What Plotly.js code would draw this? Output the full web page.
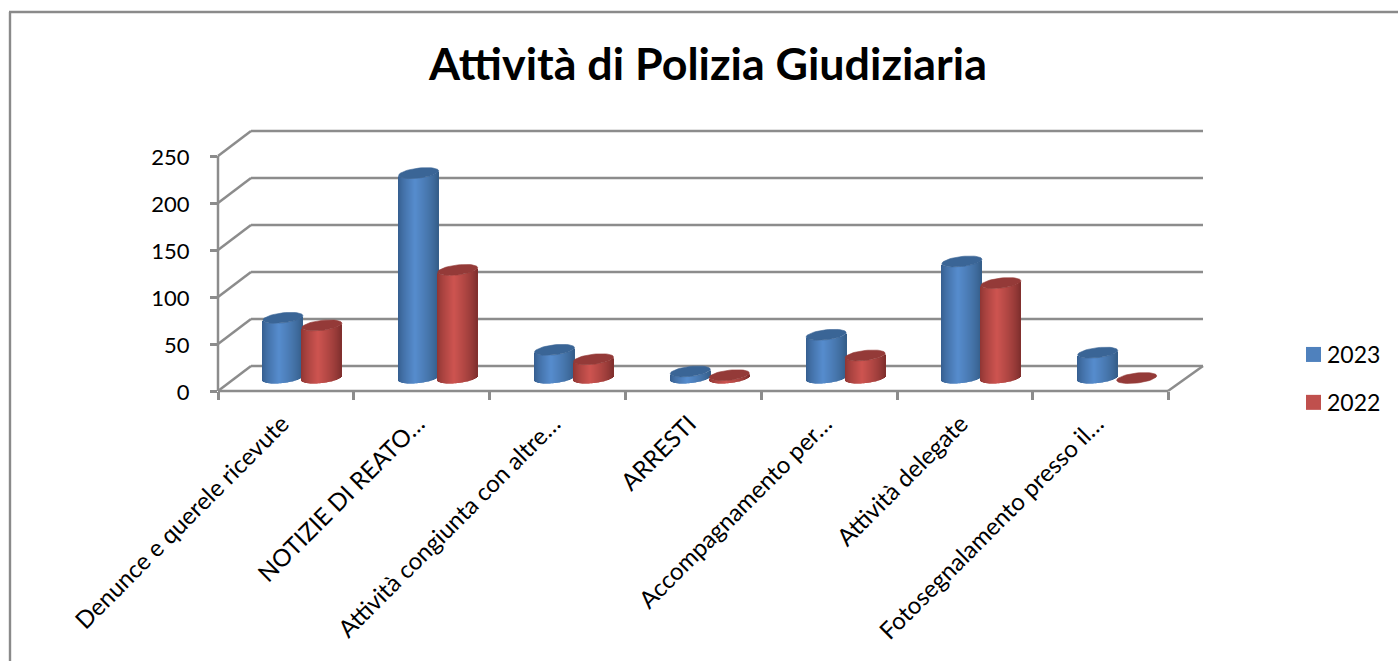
<!DOCTYPE html>
<html><head><meta charset="utf-8">
<script src="https://cdn.plot.ly/plotly-3.0.1.min.js"></script>
<style>html,body{margin:0;padding:0;background:#fff;overflow:hidden}#c{width:1398px;height:661px}</style>
</head><body><div id="c"></div>
<script>
const categories = ["Denunce e querele ricevute","NOTIZIE DI REATO…","Attività congiunta con altre…","ARRESTI","Accompagnamento per…","Attività delegate","Fotosegnalamento presso il…"];
const values2023 = [64,218,30,7,46,124,27];
const values2022 = [56,115,20,3,24,101,0];
const yTicks = [0,50,100,150,200,250];

// plot-box geometry, in pixels of the page
const L=218, R=1203, T=131, B=391, STEP=135.8, PXV=0.94, DX=33, DY=25;
const X=p=>-0.5+(p-L)/STEP, Y=p=>(B-p)/PXV;
const GRID='#8c8c8c', FONT='Lato, "Open Sans", sans-serif';

// cylinder geometry
const HALF=20, TILT=2.2, BH=5, ZERO=13.8, STRIPS=40;
function shade(rgbs,u){
  const t=u<-0.15?(u+1)/0.85:(1-u)/1.15, a=Math.pow(Math.max(0,t),0.75);
  const e=u<-0.15?rgbs[0]:rgbs[2], c=rgbs[1];
  return 'rgb('+[0,1,2].map(i=>Math.round(e[i]+(c[i]-e[i])*a)).join(',')+')';
}
function cylinder(vals,offPx,cols,cap){
  const x=[],y=[],base=[],color=[],px=[],py=[];
  vals.forEach((v,i)=>{
    const cx=i+offPx/STEP;
    for(let s=0;s<STRIPS;s++){
      const u=-1+(2*s+1)/STRIPS, h=BH*Math.sqrt(1-u*u);
      x.push(cx+u*HALF/STEP); y.push(v);
      base.push(ZERO+(TILT*u-h)/PXV); color.push(shade(cols,u));
    }
    for(let k=0;k<=48;k++){
      const a=k/48*2*Math.PI,u=Math.cos(a);
      px.push(cx+u*HALF/STEP); py.push(ZERO+v+(TILT*u+BH*Math.sin(a))/PXV);
    }
    px.push(null);py.push(null);
  });
  return [{type:'bar',x,y,base,width:1/STEP,marker:{color,line:{width:0}},showlegend:false,hoverinfo:'skip'},
          {type:'scatter',mode:'lines',x:px,y:py,fill:'toself',fillcolor:cap,line:{color:cap,width:0.6},showlegend:false,hoverinfo:'skip'}];
}
const blue=cylinder(values2023,-3,[[52,92,140],[86,140,205],[52,92,135]],'#3a6596');
const red=cylinder(values2022,36,[[140,52,50],[205,84,80],[125,46,44]],'#943a38');
const legendItems=[['2023','#4f81bd'],['2022','#c0504d']].map(([n,c])=>({type:'scatter',mode:'markers',x:[-5],y:[-50],name:n,legendgroup:n,marker:{symbol:'square',size:15,color:c}}));

const line=(x0,y0,x1,y1,c=GRID,w=2.5)=>({type:'line',xref:'paper',yref:'paper',x0:(x0-L)/(R-L),y0:(B-y0)/(B-T),x1:(x1-L)/(R-L),y1:(B-y1)/(B-T),line:{color:c,width:w},layer:'below'});
const shapes=[];
yTicks.forEach(t=>{
  const f=B-t*PXV;
  shapes.push(line(L+DX,f-DY,R,f-DY),line(L,f,L+DX,f-DY));
});
shapes.push(line(L,B,L,B-250*PXV),line(L,B,R-DX-2,B),line(R-DX-2,B,R,B-DY));
shapes.push(line(10,12,10,661,'#8a8a8a',2.4),line(9,12,1398,12,'#8a8a8a',2.4));

const layout={
  width:1398,height:661,margin:{l:L,r:1398-R,t:T,b:661-B,pad:0,autoexpand:false},
  paper_bgcolor:'#fff',plot_bgcolor:'rgba(0,0,0,0)',font:{family:FONT,size:22,color:'#000'},
  title:{text:'<b>Attività di Polizia Giudiziaria</b>',font:{family:FONT,size:44.8,color:'#000'},x:708/1398,xanchor:'center',y:1-64/661,yanchor:'middle'},
  barmode:'overlay',showlegend:true,
  xaxis:{range:[X(L),X(R)],tickmode:'array',tickvals:categories.map((_,i)=>i),ticktext:categories,tickangle:-45,ticks:'',showgrid:false,zeroline:false,showline:false,fixedrange:true,ticklabelstandoff:13,ticklabelshift:-4,tickfont:{size:24},
    minor:{ticks:'outside',ticklen:8,tickwidth:2.5,tickcolor:GRID,showgrid:false,tickmode:'array',tickvals:categories.concat(['']).map((_,i)=>i-0.5)}},
  yaxis:{range:[Y(B),Y(T)],tickmode:'array',tickvals:yTicks,ticks:'outside',ticklen:7,tickwidth:2.5,tickcolor:GRID,showgrid:false,zeroline:false,showline:false,fixedrange:true,ticklabelstandoff:16,ticklabelshift:1,tickfont:{size:22}},
  legend:{x:(1287-L)/(R-L),xanchor:'left',y:(B-333)/(B-T),yanchor:'top',bgcolor:'rgba(0,0,0,0)',borderwidth:0,tracegroupgap:15,font:{size:23}},
  shapes
};
Plotly.newPlot('c',[...blue,...red,...legendItems],layout,{displayModeBar:false,responsive:false}).then(gd=>{
  // swatch sits closer to its label in the reference
  gd.querySelectorAll('.legend .legendpoints').forEach(el=>el.setAttribute('transform','translate(6.5,0)'));
});
</script></body></html>
